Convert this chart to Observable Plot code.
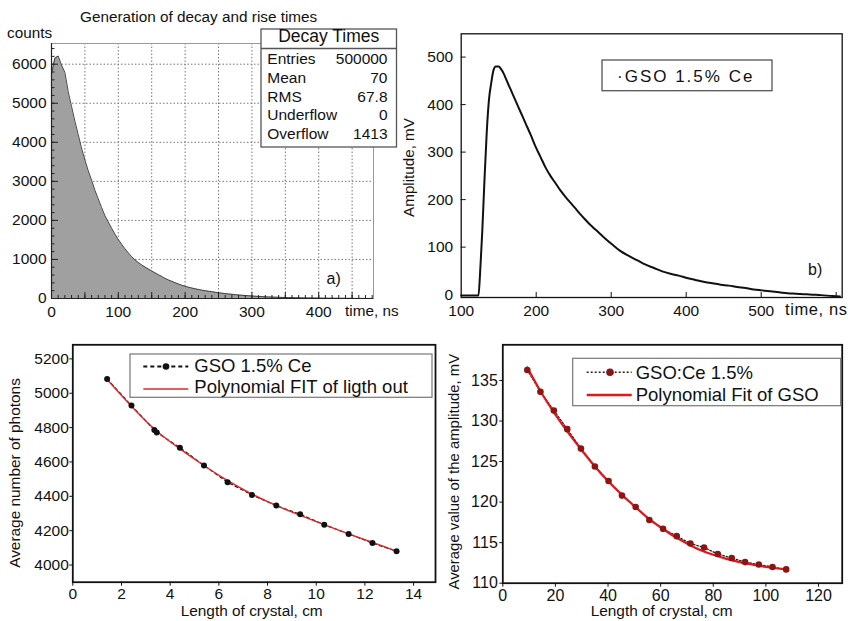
<!DOCTYPE html>
<html><head><meta charset="utf-8">
<script src="https://cdn.jsdelivr.net/npm/d3@7"></script>
<script src="https://cdn.jsdelivr.net/npm/@observablehq/plot@0.6"></script>
<style>
body{margin:0;background:#fff;}
#root{position:relative;width:850px;height:621px;overflow:hidden;font-family:"Liberation Sans",Arial,sans-serif;}
.p{position:absolute;}
.p svg{max-width:none !important;}
.p svg g[aria-label*="tick label"], .p svg g[aria-label*="tick label"] text{font-size:15.5px !important;font-family:"Liberation Sans",Arial,sans-serif !important;fill:#111;}
#pd svg g[aria-label*="tick label"], #pd svg g[aria-label*="tick label"] text{font-size:16px !important;}
#ov{position:absolute;left:0;top:0;pointer-events:none;}
#ov text{font-family:"Liberation Sans",Arial,sans-serif;fill:#111;}
</style></head><body><div id="root"></div>
<script>
// ---------- Panel a: histogram of decay times (5 ns bins) ----------
const histTime = d3.range(0, 481, 5);
const histCounts = [5750,6150,6210,5980,5790,5300,4920,4540,4200,3850,3550,3270,3030,2770,2550,2330,2120,1960,1800,1650,
  1510,1390,1270,1170,1070,990,920,860,805,755,705,655,610,565,515,475,440,405,370,340,
  312,290,268,248,230,214,200,186,174,160,146,136,126,116,107,98,90,83,76,70,
  64,58,53,48,44,40,36,33,30,28,26,24,22,20,18,16,15,13,12,11,
  10,9,8,7,7,6,5,5,4,4,4,3,3,3,2,2,2];
const statsLabels = ["Entries","Mean","RMS","Underflow","Overflow"];
const statsValues = ["500000","70","67.8","0","1413"];

// ---------- Panel b: pulse shape ----------
const pulseTime = [100,110,120,123,125,128,131,134,137,140,143,146,150,153,157,160,165,172,179,186,193,199,206,212,219,226,232,239,246,252,259,266,272,279,290,301,312,324,335,346,357,368,379,390,401,412,423,435,446,457,468,479,490,501,512,524,535,546,557,568,580,595,605];
const pulseAmp  = [-2,-2,-2,-2,40,130,240,340,410,445,472,480,480,475,464,453,435,410,385,360,335,312,289,269,250,234,220,206,193,182,169,157,147,137,121,106,92,81,72,63,56,49,44,40,35,31,27,24,21,19,16,14,11,9,7,5,3,2,1,0,-1,-3,-4];

// ---------- Panel c: light output vs length ----------
const photLen = [1.41,2.41,3.35,3.45,4.40,5.39,6.36,7.36,8.36,9.34,10.33,11.33,12.31,13.30];
const photVal = [5083,4928,4786,4772,4683,4580,4482,4408,4346,4295,4235,4181,4128,4080];
const photFitLen = [1.41,2.4,3.4,4.4,5.4,6.4,7.4,8.4,9.4,10.4,11.4,12.4,13.3];
const photFitVal = [5080,4926,4786,4676,4578,4488,4410,4344,4286,4231,4178,4127,4081];

// ---------- Panel d: amplitude vs length ----------
const ampLen = [9.3,14.3,19.4,24.5,29.7,35.0,40.2,45.3,50.5,55.7,60.9,66.1,71.3,76.5,81.7,87.0,92.1,97.3,102.5,107.7];
const ampVal = [136.3,133.6,131.3,129.0,126.6,124.4,122.6,120.8,119.4,117.8,116.7,115.8,114.9,114.4,113.6,113.1,112.6,112.3,112.0,111.7];
const ampFitLen = [9.3,15,20,25,30,35,40,45,50,55,60,65,70,75,80,85,90,95,100,108];
const ampFitVal = [136.6,133.3,130.8,128.5,126.4,124.4,122.6,121.0,119.5,118.1,116.9,115.8,114.9,114.1,113.5,113.0,112.6,112.3,112.0,111.7];

const FONT = '"Liberation Sans", Arial, sans-serif';
const root = document.getElementById("root");
function place(el, left, top, id){ const d=document.createElement("div"); d.className="p"; d.id=id; d.style.left=left+"px"; d.style.top=top+"px"; d.appendChild(el); root.appendChild(d); }
const baseStyle = (fs)=>({fontFamily:FONT, fontSize:fs, color:"#111", background:"transparent", overflow:"visible"});
const plain = d => String(d);

// Panel a
const hist = histTime.map((t,i)=>({t, v:histCounts[i]}));
{
  const W=425,H=320,mt=43,ml=51,mr=52,mb=22, iw=W-ml-mr, ih=H-mt-mb;
  place(Plot.plot({
    width:W,height:H,marginTop:mt,marginLeft:ml,marginRight:mr,marginBottom:mb,
    style:baseStyle("15.5px"),
    x:{domain:[0,482]}, y:{domain:[0,6530]},
    marks:[
      Plot.gridX(d3.range(50,481,50),{stroke:"#777",strokeOpacity:1,strokeDasharray:"1.5,2"}),
      Plot.gridY(d3.range(1000,6001,1000),{stroke:"#777",strokeOpacity:1,strokeDasharray:"1.5,2"}),
      Plot.areaY(hist,{x:"t",y:"v",fill:"#a0a0a0"}),
      Plot.lineY(hist,{x:"t",y:"v",stroke:"#333",strokeWidth:0.9}),
      Plot.frame({stroke:"#999"}),
      Plot.ruleX([0],{stroke:"#222",strokeWidth:1.2}),
      Plot.ruleY([0],{stroke:"#222",strokeWidth:1.2}),
      Plot.tickX(d3.range(0,481,50),{x:d=>d,stroke:"#222",insetTop:ih-6}),
      Plot.tickX(d3.range(0,481,10),{x:d=>d,stroke:"#222",insetTop:ih-3}),
      Plot.tickY(d3.range(0,6001,1000),{y:d=>d,stroke:"#222",insetRight:iw-7}),
      Plot.tickY(d3.range(0,6501,200),{y:d=>d,stroke:"#222",insetRight:iw-3.5}),
      Plot.axisX([0,100,200,300,400],{tickSize:0,tickPadding:7,label:null,tickFormat:plain}),
      Plot.axisY(d3.range(0,6001,1000),{tickSize:0,tickPadding:5,label:null,tickFormat:plain})
    ]
  }),0,0,"pa");
}

// Panel b
const pulse = pulseTime.map((t,i)=>({t,a:pulseAmp[i]}));
{
  const W=450,H=320,mt=33.3,ml=60.7,mr=8.3,mb=23, iw=W-ml-mr, ih=H-mt-mb;
  place(Plot.plot({
    width:W,height:H,marginTop:mt,marginLeft:ml,marginRight:mr,marginBottom:mb,
    style:baseStyle("15.5px"),
    x:{domain:[100,608]}, y:{domain:[-6,549]},
    marks:[
      Plot.line(pulse,{x:"t",y:"a",stroke:"#111",strokeWidth:2,curve:"monotone-x"}),
      Plot.frame({stroke:"#111",strokeWidth:1.3}),
      Plot.tickX([200,300,400,500,600],{x:d=>d,stroke:"#111",insetTop:ih-5}),
      Plot.tickY([100,200,300,400,500],{y:d=>d,stroke:"#111",insetRight:iw-5}),
      Plot.axisX([100,200,300,400,500],{tickSize:0,tickPadding:7,label:null,tickFormat:plain}),
      Plot.axisY([0,100,200,300,400,500],{tickSize:0,tickPadding:8,label:null,tickFormat:plain})
    ]
  }),400,0,"pb");
}

// Panel c
const phot = photLen.map((x,i)=>({x,y:photVal[i]}));
const photFit = photFitLen.map((x,i)=>({x,y:photFitVal[i]}));
{
  place(Plot.plot({
    width:440,height:301,marginTop:24.3,marginLeft:72.3,marginRight:5,marginBottom:39.3,
    style:baseStyle("15.5px"),
    x:{domain:[0,14.9]}, y:{domain:[3900,5282]},
    marks:[
      Plot.line(phot,{x:"x",y:"y",stroke:"#111",strokeWidth:1.2,strokeDasharray:"3,3"}),
      Plot.line(photFit,{x:"x",y:"y",stroke:"#e0262b",strokeWidth:1.4,curve:"natural"}),
      Plot.dot(phot,{x:"x",y:"y",r:3,fill:"#111",stroke:"none"}),
      Plot.frame({stroke:"#111",strokeWidth:1.8}),
      Plot.axisX(d3.range(0,15,2),{tickSize:4,tickPadding:2,label:null,tickFormat:plain}),
      Plot.axisY(d3.range(4000,5201,200),{tickSize:3,tickPadding:1,label:null,tickFormat:plain})
    ]
  }),0,320,"pc");
}

// Panel d
const amp = ampLen.map((x,i)=>({x,y:ampVal[i]}));
const ampFit = ampFitLen.map((x,i)=>({x,y:ampFitVal[i]}));
{
  place(Plot.plot({
    width:410,height:301,marginTop:24.3,marginLeft:62.3,marginRight:8.3,marginBottom:38.3,
    style:baseStyle("16px"),
    x:{domain:[0,129]}, y:{domain:[110,139.4]},
    marks:[
      Plot.line(amp,{x:"x",y:"y",stroke:"#222",strokeWidth:1.4,strokeDasharray:"1.5,2"}),
      Plot.line(ampFit,{x:"x",y:"y",stroke:"#e3161c",strokeWidth:2.2,curve:"natural"}),
      Plot.dot(amp,{x:"x",y:"y",r:3.3,fill:"#8b1414",stroke:"none"}),
      Plot.frame({stroke:"#111",strokeWidth:1.8}),
      Plot.axisX(d3.range(0,121,20),{tickSize:4,tickPadding:2,label:null,tickFormat:plain}),
      Plot.axisY(d3.range(110,136,5),{tickSize:3,tickPadding:2,label:null,tickFormat:plain})
    ]
  }),440,320,"pd");
}

// ---------- Overlay text, legends and stats box ----------
const NS="http://www.w3.org/2000/svg";
const ov=document.createElementNS(NS,"svg");
ov.setAttribute("id","ov"); ov.setAttribute("width",850); ov.setAttribute("height",621);
root.appendChild(ov);
function el(tag, attrs, txt){ const e=document.createElementNS(NS,tag); for(const k in attrs) e.setAttribute(k,attrs[k]); if(txt!=null) e.textContent=txt; ov.appendChild(e); return e; }
function txt(s,x,y,fs,extra={}){ return el("text",Object.assign({x,y,"font-size":fs},extra),s); }

// Panel a texts
txt("Generation of decay and rise times",80,21.5,15.3);
txt("counts",7,38.3,15.3);
txt("time, ns",345,316,15.3);
txt("a)",326.5,284,16);
// stats box
el("rect",{x:261,y:29,width:135.5,height:118,fill:"#fff",stroke:"#555","stroke-width":1.3});
el("line",{x1:261,x2:396.5,y1:48.5,y2:48.5,stroke:"#555","stroke-width":1.3});
txt("Decay Times",328.7,41.5,17.5,{"text-anchor":"middle"});
const rowY=[63.5,82.8,101.6,120,139];
statsLabels.forEach((s,i)=>{ txt(s,267.3,rowY[i],15.5); txt(statsValues[i],387.5,rowY[i],15.5,{"text-anchor":"end"}); });

// Panel b texts
txt("Amplitude, mV",413.5,167.5,15.2,{"text-anchor":"middle",transform:"rotate(-90 413.5 167.5)"});
txt("time, ns",785,315,16.5,{"letter-spacing":"0.6"});
txt("b)",808,275,16);
el("rect",{x:602,y:60,width:170,height:30.7,fill:"#fff",stroke:"#555","stroke-width":1.3});
txt("\u00B7GSO 1.5% Ce",617,81.7,17,{"letter-spacing":"2"});

// Panel c texts
txt("Average number of photons",20.3,473,15.4,{"text-anchor":"middle",transform:"rotate(-90 20.3 473)"});
txt("Length of crystal, cm",251.7,616,15.4,{"text-anchor":"middle"});
el("rect",{x:130,y:354,width:302,height:43.3,fill:"#fff",stroke:"#777","stroke-width":1.2});
el("line",{x1:143.3,x2:188.3,y1:366.5,y2:366.5,stroke:"#111","stroke-width":1.8,"stroke-dasharray":"4,3"});
el("circle",{cx:166,cy:366.5,r:3.3,fill:"#111"});
el("line",{x1:143.3,x2:188.3,y1:389,y2:389,stroke:"#e0262b","stroke-width":1.6});
txt("GSO 1.5% Ce",194.3,371.7,18.5);
txt("Polynomial FIT of ligth out",194.3,393.3,18.5);

// Panel d texts
txt("Average value of the amplitude, mV",459.2,471.7,14.9,{"text-anchor":"middle",transform:"rotate(-90 459.2 471.7)"});
txt("Length of crystal, cm",661.7,616,15.4,{"text-anchor":"middle"});
el("rect",{x:572.7,y:358.3,width:268,height:47.4,fill:"#fff",stroke:"#777","stroke-width":1.2});
el("line",{x1:586.7,x2:631.7,y1:372.3,y2:372.3,stroke:"#222","stroke-width":1.6,"stroke-dasharray":"2,2"});
el("circle",{cx:610,cy:372.3,r:3.8,fill:"#8b1414"});
el("line",{x1:586.7,x2:631.7,y1:395,y2:395,stroke:"#e3161c","stroke-width":2.6});
txt("GSO:Ce 1.5%",635.7,379,18.5);
txt("Polynomial Fit of GSO",635.7,401,18.5);
</script></body></html>
